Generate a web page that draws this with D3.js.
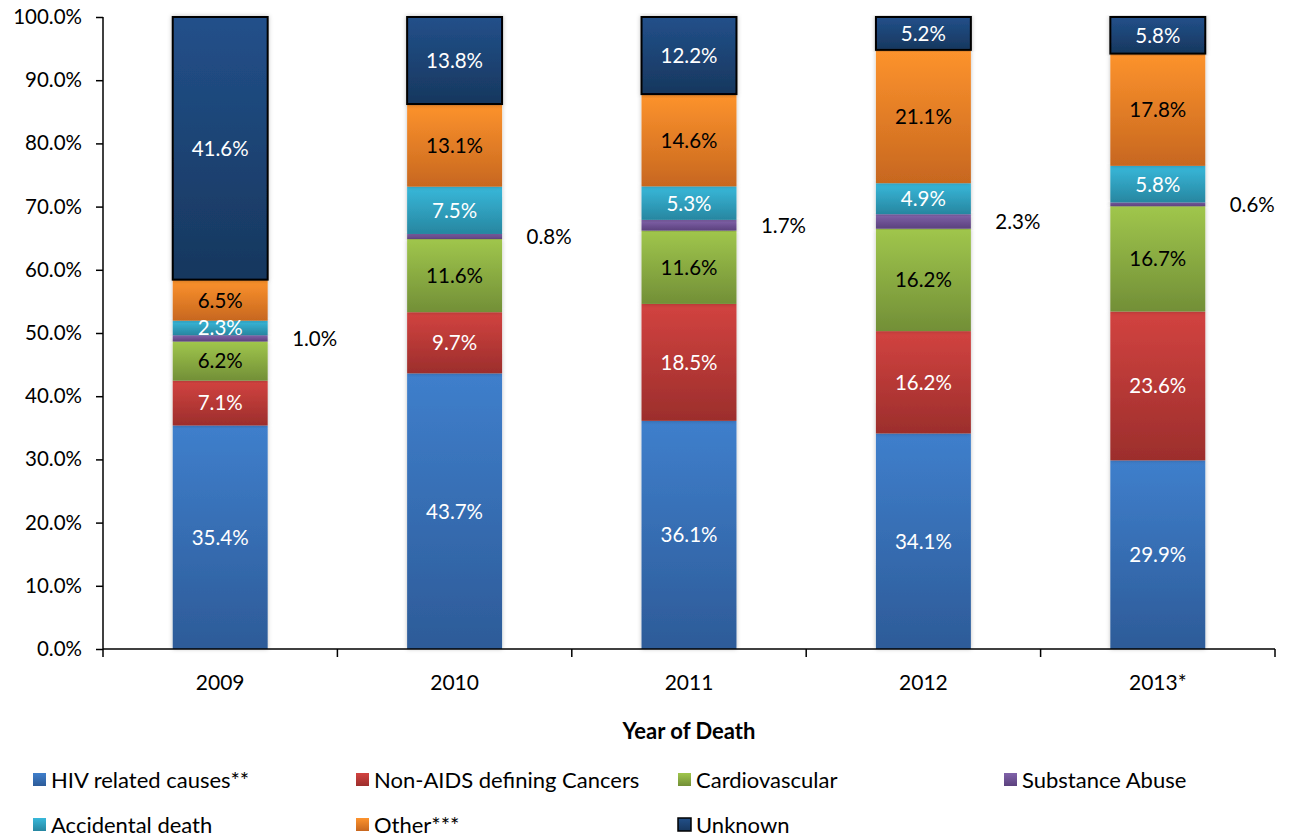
<!DOCTYPE html>
<html>
<head>
<meta charset="utf-8">
<script src="https://cdn.jsdelivr.net/npm/d3@7"></script>
<style>
  html, body { margin: 0; padding: 0; background: #fff; }
  text { font-family: Lato, "Open Sans", sans-serif; }
</style>
</head>
<body>
<div id="chart"></div>
<script>
// Year categories
const years = ['2009', '2010', '2011', '2012', '2013*'];

// Series values (% of deaths), bottom to top of the stack
const hivRelated = [35.4, 43.7, 36.1, 34.1, 29.9];
const nonAidsCancers = [7.1, 9.7, 18.5, 16.2, 23.6];
const cardiovascular = [6.2, 11.6, 11.6, 16.2, 16.7];
const substanceAbuse = [1.0, 0.8, 1.7, 2.3, 0.6];
const accidentalDeath = [2.3, 7.5, 5.3, 4.9, 5.8];
const other = [6.5, 13.1, 14.6, 21.1, 17.8];
const unknown = [41.6, 13.8, 12.2, 5.2, 5.8];

const yTicks = [0, 10, 20, 30, 40, 50, 60, 70, 80, 90, 100];

const series = [
  { key: 'hiv', name: 'HIV related causes**', values: hivRelated, top: '#3f7fcc', bottom: '#2d5b98', label: '#fff' },
  { key: 'cancer', name: 'Non-AIDS defining Cancers', values: nonAidsCancers, top: '#d24340', bottom: '#9c2e2c', label: '#fff' },
  { key: 'cardio', name: 'Cardiovascular', values: cardiovascular, top: '#a0c64c', bottom: '#728f37', label: '#000' },
  { key: 'subst', name: 'Substance Abuse', values: substanceAbuse, top: '#8163aa', bottom: '#5b417d', label: '#000', outside: true },
  { key: 'accid', name: 'Accidental death', values: accidentalDeath, top: '#38b8da', bottom: '#2786a0', label: '#fff' },
  { key: 'other', name: 'Other***', values: other, top: '#fd932d', bottom: '#c7671f', label: '#000' },
  { key: 'unknown', name: 'Unknown', values: unknown, top: '#22508a', bottom: '#17375e', label: '#fff', border: true }
];

const margin = { top: 17, right: 15, bottom: 189, left: 103 };
const width = 1290 - margin.left - margin.right;
const height = 838 - margin.top - margin.bottom;

const svg = d3.select('#chart')
  .append('svg')
  .attr('width', 1290)
  .attr('height', 838);

const defs = svg.append('defs');
series.forEach(s => {
  const g = defs.append('linearGradient')
    .attr('id', `grad-${s.key}`)
    .attr('x1', '0%').attr('x2', '0%')
    .attr('y1', '0%').attr('y2', '100%');
  g.append('stop').attr('offset', '0%').attr('stop-color', s.top);
  g.append('stop').attr('offset', '100%').attr('stop-color', s.bottom);
});

const shadow = defs.append('filter').attr('id', 'shadow')
  .attr('x', '-10%').attr('y', '-5%').attr('width', '120%').attr('height', '110%');
shadow.append('feDropShadow')
  .attr('dx', 0).attr('dy', 0).attr('stdDeviation', 2)
  .attr('flood-color', '#000').attr('flood-opacity', 0.25);

const chart = svg.append('g')
  .attr('transform', `translate(${margin.left},${margin.top})`);

// Scales
const x = d3.scaleBand()
  .domain(years)
  .range([0, width])
  .paddingInner(0.595)
  .paddingOuter(0.2975);

const y = d3.scaleLinear()
  .domain([0, 100])
  .range([height, 0]);

// Stack data, normalised per year like a 100% stacked chart
const rows = years.map((yr, i) => {
  const row = { year: yr };
  series.forEach(s => { row[s.key] = s.values[i]; });
  return row;
});
const stacked = d3.stack()
  .keys(series.map(s => s.key))
  .offset(d3.stackOffsetExpand)(rows);

// Bars
stacked.forEach((layer, li) => {
  const s = series[li];
  const g = chart.append('g');
  layer.forEach(d => {
    const y0 = y(d[0] * 100);
    const y1 = y(d[1] * 100);
    const bx = x(d.data.year);
    g.append('rect')
      .attr('x', bx)
      .attr('y', y1)
      .attr('width', x.bandwidth())
      .attr('height', y0 - y1)
      .attr('fill', `url(#grad-${s.key})`)
      .attr('stroke', s.border ? '#000' : 'none')
      .attr('stroke-width', s.border ? 2 : 0)
      .attr('filter', 'url(#shadow)');
  });
});

// Labels
stacked.forEach((layer, li) => {
  const s = series[li];
  layer.forEach(d => {
    const mid = y((d[0] + d[1]) / 2 * 100);
    const bx = x(d.data.year);
    chart.append('text')
      .attr('x', s.outside ? bx + x.bandwidth() + 47 : bx + x.bandwidth() / 2)
      .attr('y', mid)
      .attr('dy', '0.36em')
      .attr('text-anchor', 'middle')
      .style('font-size', '20.5px')
      .style('fill', s.outside ? '#000' : s.label)
      .text(`${d.data[s.key].toFixed(1)}%`);
  });
});

// Y axis
const yAxis = chart.append('g')
  .call(d3.axisLeft(y).tickValues(yTicks).tickSize(7).tickPadding(14)
    .tickFormat(d => `${d.toFixed(1)}%`));
yAxis.select('.domain').attr('stroke', '#000').attr('stroke-width', 1.5).attr('d', `M0,0V${height}`);
yAxis.selectAll('.tick line').attr('stroke', '#000').attr('stroke-width', 1.5);
yAxis.selectAll('.tick text').style('font-size', '20.5px').style('fill', '#000')
  .style('font-family', 'Lato, sans-serif');

// X axis
const xAxisG = chart.append('g')
  .attr('transform', `translate(0,${height})`);
xAxisG.append('line')
  .attr('x1', 0).attr('x2', width)
  .attr('stroke', '#000').attr('stroke-width', 1.5);
const step = x.step();
d3.range(years.length + 1).forEach(i => {
  xAxisG.append('line')
    .attr('x1', i * step).attr('x2', i * step)
    .attr('y1', 0).attr('y2', 8)
    .attr('stroke', '#000').attr('stroke-width', 1.5);
});
years.forEach(yr => {
  xAxisG.append('text')
    .attr('x', x(yr) + x.bandwidth() / 2)
    .attr('y', 33)
    .attr('dy', '0.36em')
    .attr('text-anchor', 'middle')
    .style('font-size', '21px')
    .text(yr);
});

// Axis title
chart.append('text')
  .attr('x', width / 2)
  .attr('y', height + 82)
  .attr('dy', '0.36em')
  .attr('text-anchor', 'middle')
  .style('font-size', '22px')
  .style('font-weight', 'bold')
  .text('Year of Death');

// Legend
const legendCols = [33, 356, 678, 1004];
const legendRows = [780, 825];
series.forEach((s, i) => {
  const lx = legendCols[i % 4];
  const ly = legendRows[Math.floor(i / 4)];
  const item = svg.append('g').attr('transform', `translate(${lx},${ly})`);
  item.append('rect')
    .attr('x', 0).attr('y', -7)
    .attr('width', 13).attr('height', 13)
    .attr('fill', `url(#grad-${s.key})`)
    .attr('stroke', s.border ? '#000' : 'none')
    .attr('stroke-width', s.border ? 1.5 : 0);
  item.append('text')
    .attr('x', 18)
    .attr('y', 0)
    .attr('dy', '0.36em')
    .style('font-size', '22px')
    .text(s.name);
});
</script>
</body>
</html>
